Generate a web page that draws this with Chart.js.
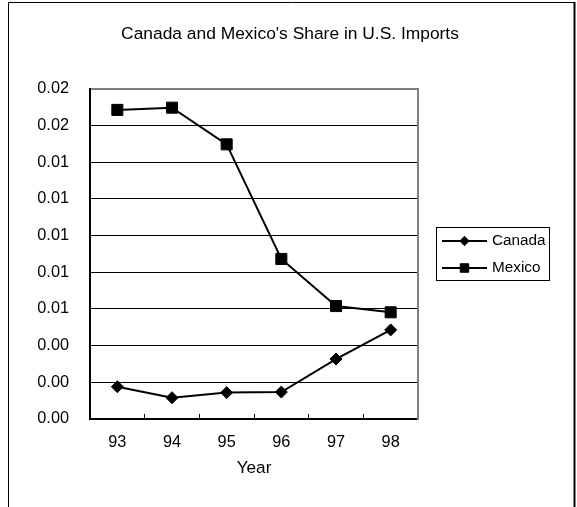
<!DOCTYPE html>
<html>
<head>
<meta charset="utf-8">
<title>Canada and Mexico's Share in U.S. Imports</title>
<script src="https://cdn.jsdelivr.net/npm/chart.js@4.4.1/dist/chart.umd.min.js"></script>
<style>
  html, body { margin: 0; padding: 0; background: #fff; }
  canvas { display: block; }
</style>
</head>
<body>
<canvas id="chart" width="577" height="507"></canvas>
<script>
// Import shares by year
const years = ['93', '94', '95', '96', '97', '98'];
const canada = [0.00176, 0.00116, 0.00144, 0.00147, 0.00327, 0.00486];
const mexico = [0.01686, 0.01698, 0.01498, 0.00873, 0.00616, 0.00582];

// Value axis: range, step and the two-decimal labels shown at each step
const yMin = 0;
const yMax = 0.018;
const yStep = 0.002;
const yTickLabels = ['0.00', '0.00', '0.00', '0.01', '0.01', '0.01', '0.01', '0.01', '0.02', '0.02'];

const FONT = "'Liberation Sans', Arial, Helvetica, sans-serif";
Chart.defaults.font.family = FONT;
Chart.defaults.color = '#000';

// White page with a thin frame around the whole chart object
const framePlugin = {
  id: 'frame',
  beforeDraw(chart) {
    const ctx = chart.ctx;
    ctx.save();
    ctx.fillStyle = '#fff';
    ctx.fillRect(0, 0, chart.width, chart.height);
    ctx.strokeStyle = '#000';
    ctx.lineWidth = 1;
    ctx.beginPath();
    ctx.moveTo(8.5, chart.height + 2);
    ctx.lineTo(8.5, 2.5);
    ctx.lineTo(574, 2.5);
    ctx.stroke();
    ctx.lineWidth = 2;
    ctx.beginPath();
    ctx.moveTo(574.5, 2);
    ctx.lineTo(574.5, chart.height + 2);
    ctx.stroke();
    ctx.restore();
  }
};

// Boxed legend with a line-and-marker sample for each series
const boxedLegend = {
  id: 'boxedLegend',
  afterDraw(chart, args, opts) {
    const { ctx, chartArea } = chart;
    const w = 113, h = 53;
    const left = Math.round(chartArea.right + 18);
    const top = Math.round((chartArea.top + chartArea.bottom) / 2 - h / 2);
    ctx.save();
    ctx.strokeStyle = '#000';
    ctx.lineWidth = 1;
    ctx.strokeRect(left + 0.5, top + 0.5, w, h);
    chart.data.datasets.forEach((ds, i) => {
      const y = top + 14 + i * 27;
      ctx.strokeStyle = ds.borderColor;
      ctx.lineWidth = 2;
      ctx.beginPath();
      ctx.moveTo(left + 6, y);
      ctx.lineTo(left + 51, y);
      ctx.stroke();
      ctx.fillStyle = ds.pointBackgroundColor;
      ctx.strokeStyle = ds.pointBorderColor;
      ctx.lineWidth = 1;
      Chart.helpers.drawPoint(ctx, {
        pointStyle: ds.pointStyle,
        radius: opts.radius[i],
        rotation: 0,
        borderWidth: 1
      }, left + 28.5, y);
      ctx.fillStyle = '#000';
      ctx.font = '15.3px ' + FONT;
      ctx.textAlign = 'left';
      ctx.textBaseline = 'middle';
      ctx.fillText(ds.label, left + 56, y);
    });
    ctx.restore();
  }
};

new Chart(document.getElementById('chart'), {
  type: 'line',
  data: {
    labels: years,
    datasets: [
      {
        label: 'Canada',
        data: canada,
        borderColor: '#000',
        backgroundColor: '#000',
        borderWidth: 2,
        tension: 0,
        pointStyle: 'rectRot',
        pointRadius: 6,
        pointBackgroundColor: '#000',
        pointBorderColor: '#000',
        pointBorderWidth: 1
      },
      {
        label: 'Mexico',
        data: mexico,
        borderColor: '#000',
        backgroundColor: '#000',
        borderWidth: 2,
        tension: 0,
        pointStyle: 'rect',
        pointRadius: 7.8,
        pointBackgroundColor: '#000',
        pointBorderColor: '#000',
        pointBorderWidth: 1
      }
    ]
  },
  options: {
    responsive: false,
    animation: false,
    events: [],
    layout: { padding: { left: 3, right: 0, top: 0, bottom: 28 } },
    plugins: {
      legend: { display: false },
      tooltip: { enabled: false },
      title: {
        display: true,
        text: "Canada and Mexico's Share in U.S. Imports",
        color: '#000',
        font: { size: 17.4, weight: 'normal' },
        padding: { top: 23.6, bottom: 44.5 }
      },
      boxedLegend: { radius: [4.7, 6] }
    },
    scales: {
      x: {
        type: 'category',
        offset: true,
        grid: {
          offset: true,
          drawOnChartArea: false,
          drawTicks: true,
          tickLength: -5,
          color: '#000',
          tickColor: '#000',
          lineWidth: 1,
          tickWidth: 1
        },
        border: { color: '#000', width: 2 },
        ticks: {
          color: '#000',
          font: { size: 16.3 },
          padding: 19,
          maxRotation: 0,
          autoSkip: false
        },
        title: {
          display: true,
          text: 'Year',
          color: '#000',
          font: { size: 17.2 },
          padding: { top: 0, bottom: 0 }
        },
        afterFit(scale) { scale.height = 60; }
      },
      y: {
        min: yMin,
        max: yMax,
        ticks: {
          stepSize: yStep,
          color: '#000',
          font: { size: 16.3 },
          padding: 21,
          callback: (value, index) => yTickLabels[index]
        },
        grid: {
          drawTicks: false,
          color: (ctx) => ctx.index === yTickLabels.length - 1 ? '#808080' : '#000',
          lineWidth: (ctx) => ctx.index === yTickLabels.length - 1 ? 2 : 1
        },
        border: { color: '#000', width: 2 },
        afterFit(scale) { scale.width = 87; }
      },
      frameRight: {
        type: 'linear',
        position: 'right',
        display: true,
        grid: { display: false, drawTicks: false },
        ticks: { display: false },
        border: { display: true, color: '#808080', width: 2 },
        afterFit(scale) { scale.width = 159; }
      }
    }
  },
  plugins: [framePlugin, boxedLegend]
});
</script>
</body>
</html>
